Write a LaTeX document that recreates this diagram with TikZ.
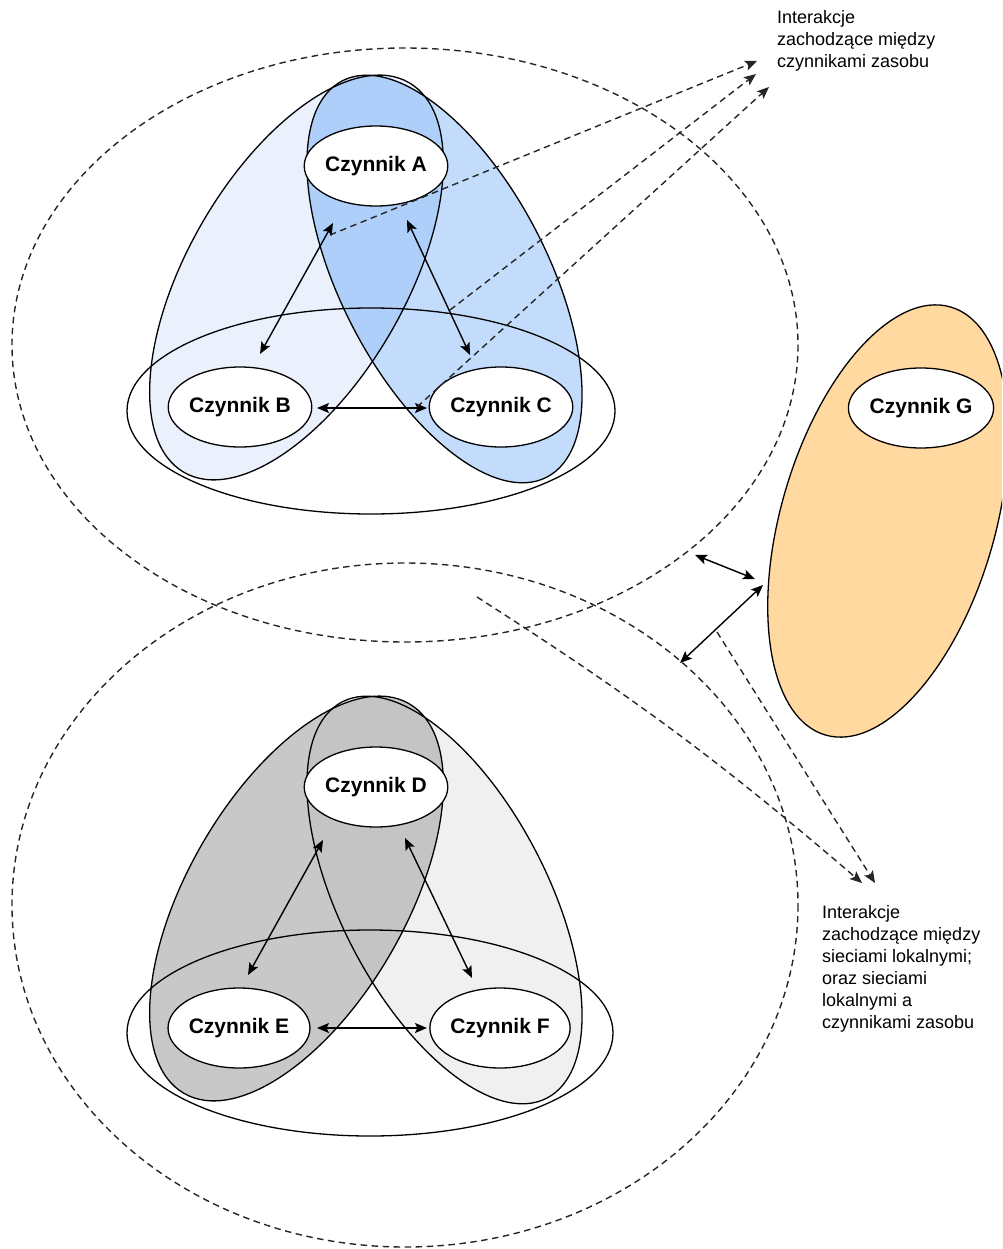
\documentclass[tikz,border=0pt]{standalone}
\usepackage{fontspec}
\setmainfont{Liberation Sans}
\usetikzlibrary{arrows.meta,shapes.geometric}
\definecolor{bluelight}{HTML}{EAF1FD}
\definecolor{bluemid}{HTML}{C4DCFC}
\definecolor{bluedark}{HTML}{AFCFFB}
\definecolor{graydark}{HTML}{C8C8C8}
\definecolor{graylight}{HTML}{F0F0F0}
\definecolor{grayover}{HTML}{C4C4C4}
\definecolor{orangefill}{HTML}{FFD9A0}
\begin{document}
\begin{tikzpicture}[x=1pt,y=-1pt,
  >={Stealth[length=12pt,width=10pt,inset=2.5pt]},
  shapeline/.style={draw=black,line width=1.3pt},
  factor/.style={ellipse,draw=black,line width=1.3pt,fill=white,minimum width=138pt,minimum height=80pt,inner sep=0pt,font=\fontsize{21}{25}\selectfont\bfseries},
  both/.style={<->,line width=1.4pt},
  dasharrow/.style={->,line width=1.4pt,dash pattern=on 6.5pt off 4.5pt,draw=black!85},
  network/.style={draw=black!85,line width=1.4pt,dash pattern=on 6.5pt off 4.5pt},
  note/.style={align=left,anchor=north west,inner sep=0pt,font=\fontsize{18}{22}\selectfont},
  ltilt/.style={rotate around={60:(296.5,#1)}},
  rtilt/.style={rotate around={-62.7:(444.5,#1)}}
]
\useasboundingbox (0,0) rectangle (1002,1249);
\clip (0,0) rectangle (1002,1249);

% ---------- top local network ----------
\fill[bluelight,ltilt=277.5] (296.5,277.5) ellipse [x radius=225,y radius=109];
\fill[bluemid,rtilt=279] (444.5,279) ellipse [x radius=223,y radius=103.5];
\begin{scope}
  \clip[ltilt=277.5] (296.5,277.5) ellipse [x radius=225,y radius=109];
  \fill[bluedark,rtilt=279] (444.5,279) ellipse [x radius=223,y radius=103.5];
\end{scope}
\draw[shapeline,ltilt=277.5] (296.5,277.5) ellipse [x radius=225,y radius=109];
\draw[shapeline,rtilt=279] (444.5,279) ellipse [x radius=223,y radius=103.5];
\draw[shapeline] (371,411) ellipse [x radius=244,y radius=103];

\node[factor] (A) at (376,166) {Czynnik A};
\node[factor] (B) at (240,407) {Czynnik B};
\node[factor] (C) at (501,407) {Czynnik C};

% ---------- bottom local network ----------
\fill[graylight,rtilt=900] (444.5,900) ellipse [x radius=223,y radius=103.5];
\fill[graydark,ltilt=898.5] (296.5,898.5) ellipse [x radius=225,y radius=109];
\begin{scope}
  \clip[ltilt=898.5] (296.5,898.5) ellipse [x radius=225,y radius=109];
  \fill[grayover,rtilt=900] (444.5,900) ellipse [x radius=223,y radius=103.5];
\end{scope}
\draw[shapeline,ltilt=898.5] (296.5,898.5) ellipse [x radius=225,y radius=109];
\draw[shapeline,rtilt=900] (444.5,900) ellipse [x radius=223,y radius=103.5];
\draw[shapeline] (370,1033) ellipse [x radius=243,y radius=103];

\node[factor] (D) at (376,787) {Czynnik D};
\node[factor] (E) at (239,1028) {Czynnik E};
\node[factor] (F) at (500,1028) {Czynnik F};

% ---------- resource factor G ----------
\draw[shapeline,fill=orangefill,rotate around={73.7:(888,521)}] (888,521) ellipse [x radius=223,y radius=107];
\node[factor] (G) at (921,408) {Czynnik G};

% ---------- local networks (dashed) ----------
\draw[network] (405,345) ellipse [x radius=393,y radius=297];
\draw[network] (405,905) ellipse [x radius=393,y radius=342];

% ---------- coordinates ----------
\coordinate (ab1) at (333,223); \coordinate (ab2) at (260,354);
\coordinate (ac1) at (407,220); \coordinate (ac2) at (470,355);
\coordinate (bc1) at (317,408); \coordinate (bc2) at (427,408);
\coordinate (de1) at (323,840); \coordinate (de2) at (248,975);
\coordinate (df1) at (405,838); \coordinate (df2) at (472,978);
\coordinate (ef1) at (317,1028); \coordinate (ef2) at (427,1028);
\coordinate (s1) at (330,235); \coordinate (e1) at (757,61);
\coordinate (s2) at (450,310); \coordinate (e2) at (756,74);
\coordinate (s3) at (417,407); \coordinate (e3) at (769,87);
\coordinate (g1a) at (695,555); \coordinate (g1b) at (755,579);
\coordinate (g2a) at (680,663); \coordinate (g2b) at (763,585);
\coordinate (s4) at (477,597); \coordinate (e4) at (862,883);
\coordinate (s5) at (717,632); \coordinate (e5) at (875,883);

% ---------- interactions ----------
\draw[both] (ab1) -- (ab2);
\draw[both] (ac1) -- (ac2);
\draw[both] (bc1) -- (bc2);
\draw[both] (de1) -- (de2);
\draw[both] (df1) -- (df2);
\draw[both] (ef1) -- (ef2);
\draw[both] (g1a) -- (g1b);
\draw[both] (g2a) -- (g2b);

\draw[dasharrow] (s1) -- (e1);
\draw[dasharrow] (s2) -- (e2);
\draw[dasharrow] (s3) -- (e3);
\draw[dasharrow] (s4) to[bend left=4] (e4);
\draw[dasharrow] (s5) -- (e5);

% ---------- notes ----------
\node[note] (n1) at (777,10) {Interakcje\\zachodzące między\\czynnikami zasobu};
\node[note] (n2) at (822,905) {Interakcje\\zachodzące między\\sieciami lokalnymi;\\oraz sieciami\\lokalnymi a\\czynnikami zasobu};
\end{tikzpicture}
\end{document}
